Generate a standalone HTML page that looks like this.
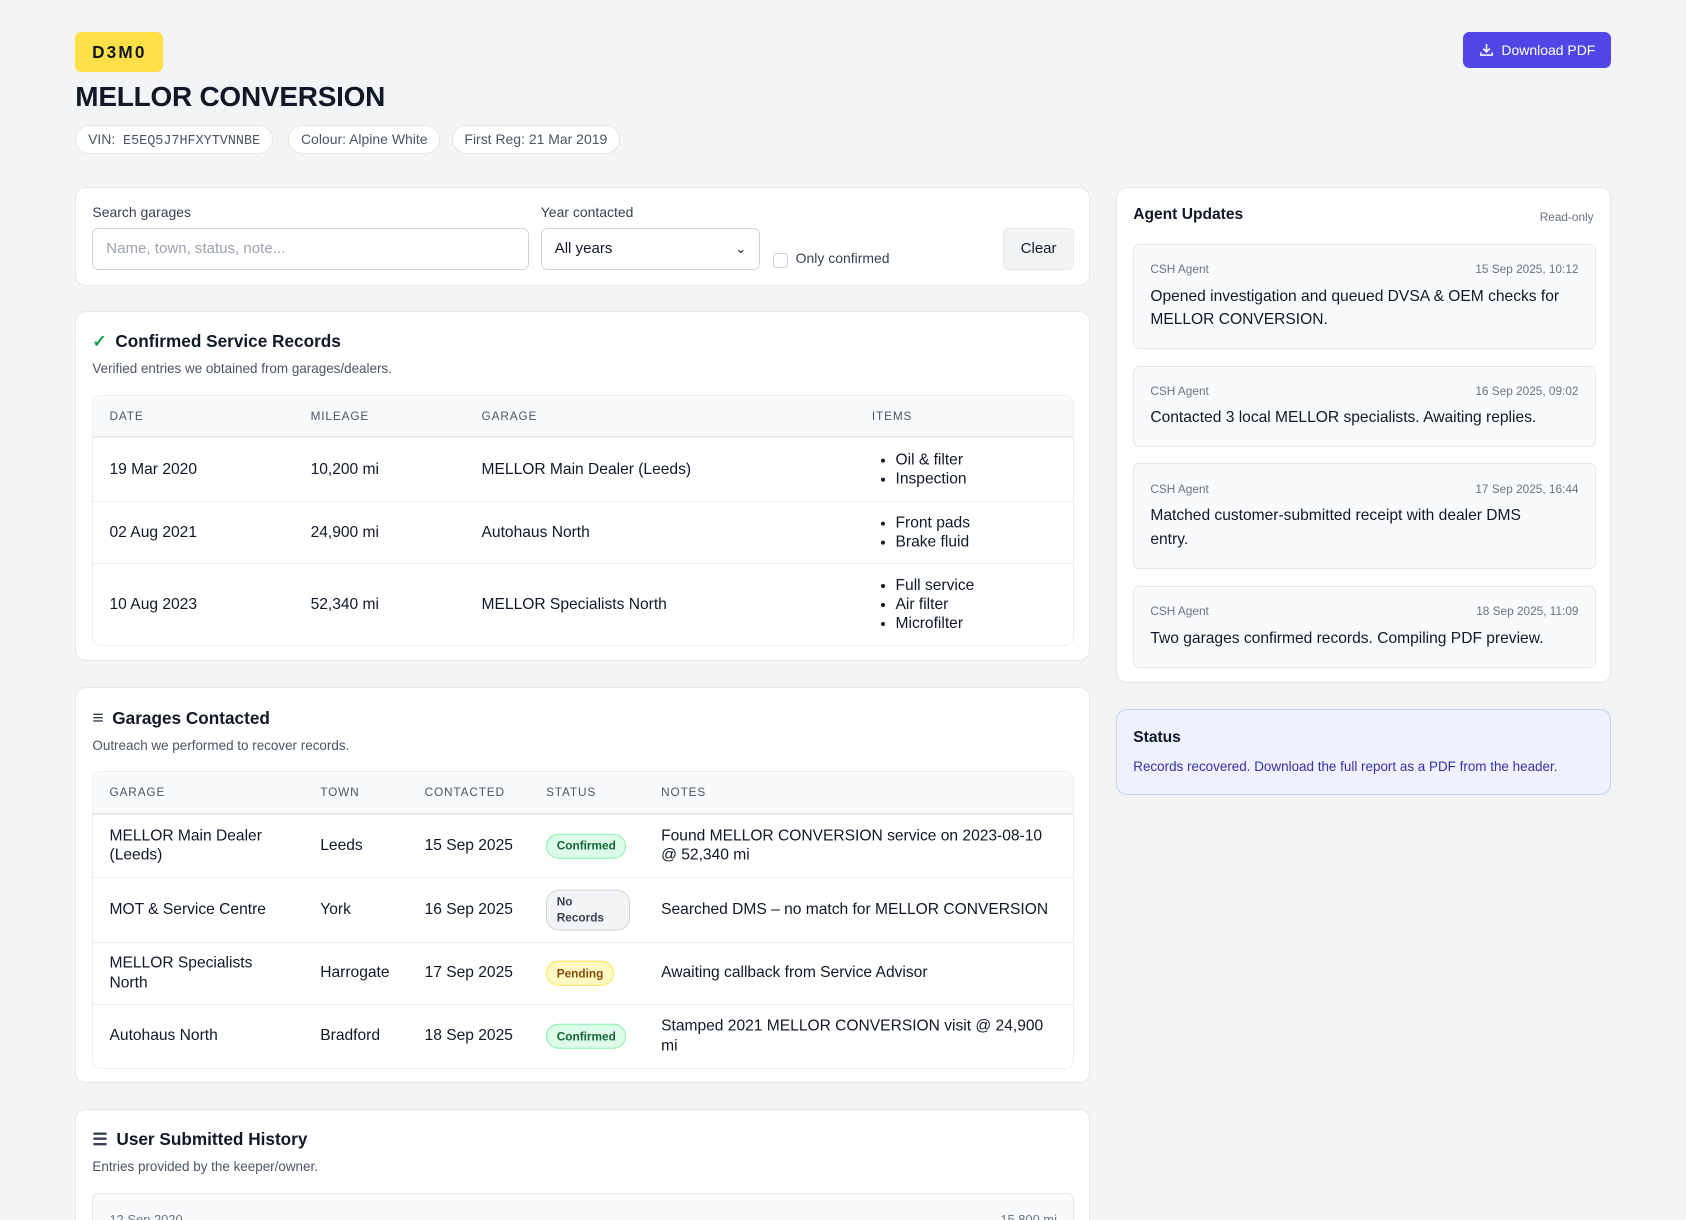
<!DOCTYPE html>
<html><head><meta charset="utf-8"><style>
*{box-sizing:border-box;margin:0;padding:0}
html,body{width:1686px;height:1220px;overflow:hidden;background:#f3f4f6}
#z{zoom:1.07526;position:relative;width:1568px;height:1135px;font-family:"Liberation Sans",sans-serif;color:#111827}
.a{position:absolute}
.plate{left:70px;top:30px;width:82px;height:37px;background:#fde047;border-radius:6px;font:bold 16px "Liberation Sans",sans-serif;letter-spacing:2px;display:flex;align-items:center;justify-content:center}
h1{position:absolute;left:70px;top:75px;font-size:26px;font-weight:600;letter-spacing:-.2px}
.chip{top:116px;height:27px;background:#fff;border:1px solid #e5e7eb;border-radius:14px;font-size:13px;color:#4b5563;padding:0 11px;line-height:25px}
.btn{left:1361px;top:30px;width:137px;height:33px;background:#4f46e5;border-radius:6px;color:#fff;font-size:13px;display:flex;align-items:center;justify-content:center;gap:7px}
.card{background:#fff;border:1px solid #e5e7eb;border-radius:10px}
.lbl{font-size:13px;color:#374151}
.inp{border:1px solid #d1d5db;border-radius:6px;height:39px;font-size:14px;padding:0 12px;line-height:37px;background:#fff}
.ttl{font-size:16px;font-weight:600;display:flex;align-items:center;gap:8px}
.sub{font-size:12.5px;color:#4b5563}
.tbl{border:1px solid #eceef1;border-radius:8px;overflow:hidden}
.hd{background:#f9fafb;border-bottom:1px solid #e5e7eb;height:39px;position:relative;font-size:11px;letter-spacing:.8px;color:#4b5563}
.row{position:relative;border-top:1px solid #eceef1;font-size:14.5px}
.row:first-of-type{border-top:none}
.c{position:absolute;top:50%;transform:translateY(-50%)}
ul{list-style:disc;padding-left:20px;line-height:18px}
.pill{font-size:11px;font-weight:600;border-radius:12px;padding:4px 9px;border:1px solid}
.ok{background:#dcfce7;border-color:#86efac;color:#166534}
.pd{background:#fef9c3;border-color:#fde047;color:#854d0e}
.no{background:#f3f4f6;border-color:#d1d5db;color:#374151;line-height:15px}
.upd{position:absolute;left:15px;width:430px;background:#f9fafb;border:1px solid #e5e7eb;border-radius:6px;padding:0 15px}
.uh{display:flex;justify-content:space-between;font-size:11px;color:#6b7280;margin-top:16px}
.ut{font-size:14.5px;line-height:22px;margin-top:8px}
</style></head><body><div id="z">
<div class="a plate">D3M0</div>
<h1>MELLOR CONVERSION</h1>
<div class="a chip" style="left:70px">VIN:&nbsp; <span style="font-family:'Liberation Mono',monospace;font-size:12.5px">E5EQ5J7HFXYTVNNBE</span></div>
<div class="a chip" style="left:268px">Colour: Alpine White</div>
<div class="a chip" style="left:420px">First Reg: 21 Mar 2019</div>
<div class="a btn"><svg width="14" height="14" viewBox="0 0 16 16" fill="none" stroke="#fff" stroke-width="1.6"><path d="M8 2v8M4.5 7l3.5 3.5L11.5 7M2 11v3h12v-3"/></svg>Download PDF</div>

<div class="a card" style="left:70px;top:174px;width:944px;height:92px">
 <div class="a lbl" style="left:15px;top:15px">Search garages</div>
 <div class="a inp" style="left:15px;top:37px;width:406px;color:#9ca3af">Name, town, status, note...</div>
 <div class="a lbl" style="left:432px;top:15px">Year contacted</div>
 <div class="a inp" style="left:432px;top:37px;width:204px">All years<span style="position:absolute;right:12px;top:0;font-size:12px">&#8964;</span></div>
 <div class="a" style="left:648px;top:60px;width:14px;height:14px;border:1px solid #d1d5db;border-radius:3px"></div>
 <div class="a lbl" style="left:669px;top:58px">Only confirmed</div>
 <div class="a inp" style="left:862px;top:37px;width:66px;background:#f3f4f6;border-color:#e5e7eb;text-align:center;padding:0">Clear</div>
</div>

<div class="a card" style="left:70px;top:289px;width:944px;height:326px">
 <div class="a ttl" style="left:15px;top:18px"><span style="color:#16a34a;font-size:16px">&#10003;</span>Confirmed Service Records</div>
 <div class="a sub" style="left:15px;top:46px">Verified entries we obtained from garages/dealers.</div>
 <div class="a tbl" style="left:15px;top:77px;width:913px">
  <div class="hd"><span class="c" style="left:15px">DATE</span><span class="c" style="left:202px">MILEAGE</span><span class="c" style="left:361px">GARAGE</span><span class="c" style="left:724px">ITEMS</span></div>
  <div class="row" style="height:59px"><span class="c" style="left:15px">19 Mar 2020</span><span class="c" style="left:202px">10,200 mi</span><span class="c" style="left:361px">MELLOR Main Dealer (Leeds)</span><ul class="c" style="left:726px"><li>Oil &amp; filter</li><li>Inspection</li></ul></div>
  <div class="row" style="height:58px"><span class="c" style="left:15px">02 Aug 2021</span><span class="c" style="left:202px">24,900 mi</span><span class="c" style="left:361px">Autohaus North</span><ul class="c" style="left:726px"><li>Front pads</li><li>Brake fluid</li></ul></div>
  <div class="row" style="height:76px"><span class="c" style="left:15px">10 Aug 2023</span><span class="c" style="left:202px">52,340 mi</span><span class="c" style="left:361px">MELLOR Specialists North</span><ul class="c" style="left:726px"><li>Full service</li><li>Air filter</li><li>Microfilter</li></ul></div>
 </div>
</div>

<div class="a card" style="left:70px;top:639px;width:944px;height:368px">
 <div class="a ttl" style="left:15px;top:18px"><span style="font-size:18px;color:#374151">&#8801;</span>Garages Contacted</div>
 <div class="a sub" style="left:15px;top:46px">Outreach we performed to recover records.</div>
 <div class="a tbl" style="left:15px;top:77px;width:913px">
  <div class="hd"><span class="c" style="left:15px">GARAGE</span><span class="c" style="left:211px">TOWN</span><span class="c" style="left:308px">CONTACTED</span><span class="c" style="left:421px">STATUS</span><span class="c" style="left:528px">NOTES</span></div>
  <div class="row" style="height:59px"><span class="c" style="left:15px;line-height:18px">MELLOR Main Dealer<br>(Leeds)</span><span class="c" style="left:211px">Leeds</span><span class="c" style="left:308px">15 Sep 2025</span><span class="c pill ok" style="left:421px">Confirmed</span><span class="c" style="left:528px;line-height:18px">Found MELLOR CONVERSION service on 2023-08-10<br>@ 52,340 mi</span></div>
  <div class="row" style="height:60px"><span class="c" style="left:15px">MOT &amp; Service Centre</span><span class="c" style="left:211px">York</span><span class="c" style="left:308px">16 Sep 2025</span><span class="c pill no" style="left:421px;padding:3px 9px;width:78px">No<br>Records</span><span class="c" style="left:528px">Searched DMS – no match for MELLOR CONVERSION</span></div>
  <div class="row" style="height:58px"><span class="c" style="left:15px;line-height:18px">MELLOR Specialists<br>North</span><span class="c" style="left:211px">Harrogate</span><span class="c" style="left:308px">17 Sep 2025</span><span class="c pill pd" style="left:421px">Pending</span><span class="c" style="left:528px">Awaiting callback from Service Advisor</span></div>
  <div class="row" style="height:59px"><span class="c" style="left:15px">Autohaus North</span><span class="c" style="left:211px">Bradford</span><span class="c" style="left:308px">18 Sep 2025</span><span class="c pill ok" style="left:421px">Confirmed</span><span class="c" style="left:528px;line-height:18px">Stamped 2021 MELLOR CONVERSION visit @ 24,900<br>mi</span></div>
 </div>
</div>

<div class="a card" style="left:70px;top:1031px;width:944px;height:140px">
 <div class="a ttl" style="left:15px;top:18px"><span style="font-size:16px;color:#374151">&#9776;</span>User Submitted History</div>
 <div class="a sub" style="left:15px;top:46px">Entries provided by the keeper/owner.</div>
 <div class="a" style="left:15px;top:78px;width:913px;height:60px;background:#f9fafb;border:1px solid #e5e7eb;border-radius:6px;font-size:12px;color:#6b7280"><span class="a" style="left:15px;top:16px">12 Sep 2020</span><span class="a" style="right:15px;top:16px">15,800 mi</span></div>
</div>

<div class="a card" style="left:1038px;top:174px;width:460px;height:461px">
 <div class="a" style="left:15px;top:17px;font-size:14.5px;font-weight:600">Agent Updates</div>
 <div class="a" style="right:15px;top:20px;font-size:11px;color:#6b7280">Read-only</div>
 <div class="upd" style="top:52px;height:98px"><div class="uh"><span>CSH Agent</span><span>15 Sep 2025, 10:12</span></div><div class="ut">Opened investigation and queued DVSA &amp; OEM checks for MELLOR CONVERSION.</div></div>
 <div class="upd" style="top:165px;height:76px"><div class="uh"><span>CSH Agent</span><span>16 Sep 2025, 09:02</span></div><div class="ut">Contacted 3 local MELLOR specialists. Awaiting replies.</div></div>
 <div class="upd" style="top:256px;height:98px"><div class="uh"><span>CSH Agent</span><span>17 Sep 2025, 16:44</span></div><div class="ut">Matched customer-submitted receipt with dealer DMS<br>entry.</div></div>
 <div class="upd" style="top:370px;height:76px"><div class="uh"><span>CSH Agent</span><span>18 Sep 2025, 11:09</span></div><div class="ut">Two garages confirmed records. Compiling PDF preview.</div></div>
</div>

<div class="a" style="left:1038px;top:659px;width:460px;height:80px;background:#eef2ff;border:1px solid #c7d2fe;border-radius:10px">
 <div class="a" style="left:15px;top:18px;font-size:14.5px;font-weight:600">Status</div>
 <div class="a" style="left:15px;top:46px;font-size:12.5px;color:#3730a3">Records recovered. Download the full report as a PDF from the header.</div>
</div>
</div></body></html>
